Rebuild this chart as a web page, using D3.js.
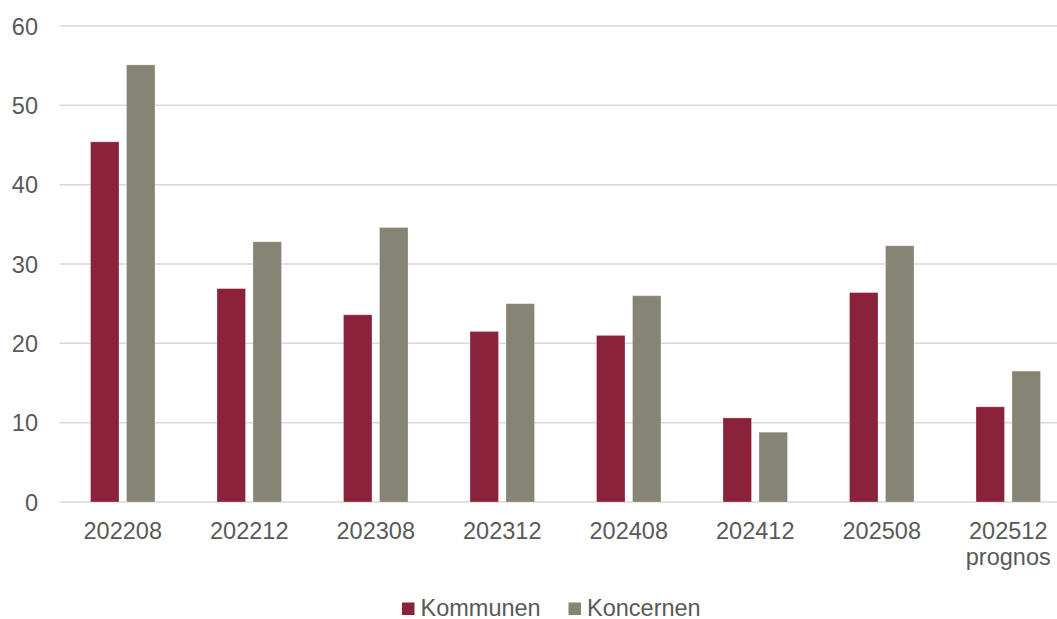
<!DOCTYPE html>
<html>
<head>
<meta charset="utf-8">
<script src="https://cdn.jsdelivr.net/npm/d3@7"></script>
<style>
  body { margin: 0; background: #fff; }
  svg { display: block; font-family: 'Liberation Sans', Arial, sans-serif; }
</style>
</head>
<body>
<div id="chart"></div>
<script>
const categories = ['202208', '202212', '202308', '202312', '202408', '202412', '202508', '202512\nprognos'];
const kommunen = [45.4, 26.9, 23.6, 21.5, 21.0, 10.6, 26.4, 12.0];
const koncernen = [55.1, 32.8, 34.6, 25.0, 26.0, 8.8, 32.3, 16.5];
const seriesNames = ['Kommunen', 'Koncernen'];
const colors = ['#8b223c', '#868474'];
const yTicks = [0, 10, 20, 30, 40, 50, 60];

const width = 1057, height = 619;
const plot = { left: 59.5, right: 1071.5, top: 26, bottom: 502 };

const svg = d3.select('#chart').append('svg')
    .attr('width', width)
    .attr('height', height);

const x = d3.scaleBand().domain(categories).range([plot.left, plot.right]);
const y = d3.scaleLinear().domain([0, 60]).range([plot.bottom, plot.top]);

// Gridlines
svg.append('g')
    .selectAll('line')
    .data(yTicks)
    .enter()
    .append('line')
    .attr('x1', plot.left).attr('x2', width)
    .attr('y1', d => y(d)).attr('y2', d => y(d))
    .attr('stroke', '#d9d9d9')
    .attr('stroke-width', 1.5);

// Y labels
svg.append('g')
    .selectAll('text')
    .data(yTicks)
    .enter()
    .append('text')
    .attr('x', 38)
    .attr('y', d => y(d) + 8.5)
    .attr('text-anchor', 'end')
    .attr('fill', '#595959')
    .style('font-size', '23.5px')
    .text(d => d);

// Bars
const barW = 28.5, gap = 7.5;
const data = categories.map((c, i) => ({ cat: c, vals: [kommunen[i], koncernen[i]] }));
const groups = svg.append('g')
    .selectAll('g')
    .data(data)
    .enter()
    .append('g');

groups.selectAll('rect')
    .data(d => d.vals.map((v, s) => ({ cat: d.cat, v, s })))
    .enter()
    .append('rect')
    .attr('x', d => x(d.cat) + x.bandwidth() / 2 + (d.s === 0 ? -gap / 2 - barW : gap / 2))
    .attr('y', d => y(d.v))
    .attr('width', barW)
    .attr('height', d => y(0) - y(d.v))
    .attr('fill', d => colors[d.s])
    .attr('stroke', 'rgba(255,255,255,0.35)')
    .attr('stroke-width', 0.8);

// Category labels
const catLabels = svg.append('g')
    .selectAll('text')
    .data(categories)
    .enter()
    .append('text')
    .attr('x', d => x(d) + x.bandwidth() / 2)
    .attr('y', 539)
    .attr('text-anchor', 'middle')
    .attr('fill', '#595959')
    .style('font-size', '23.5px');

catLabels.each(function (d) {
    d3.select(this).selectAll('tspan')
        .data(d.split('\n'))
        .enter()
        .append('tspan')
        .attr('x', x(d) + x.bandwidth() / 2)
        .attr('dy', (t, i) => i === 0 ? 0 : 26)
        .text(t => t);
});

// Legend
const legendX = [402, 568.5];
const legend = svg.append('g')
    .selectAll('g')
    .data(seriesNames)
    .enter()
    .append('g')
    .attr('transform', (d, i) => `translate(${legendX[i]},602.5)`);

legend.append('rect')
    .attr('width', 12.5).attr('height', 12.5)
    .attr('fill', (d, i) => colors[i]);

legend.append('text')
    .attr('x', 18.5)
    .attr('y', 13.5)
    .attr('fill', '#595959')
    .style('font-size', '23.5px')
    .text(d => d);
</script>
</body>
</html>
